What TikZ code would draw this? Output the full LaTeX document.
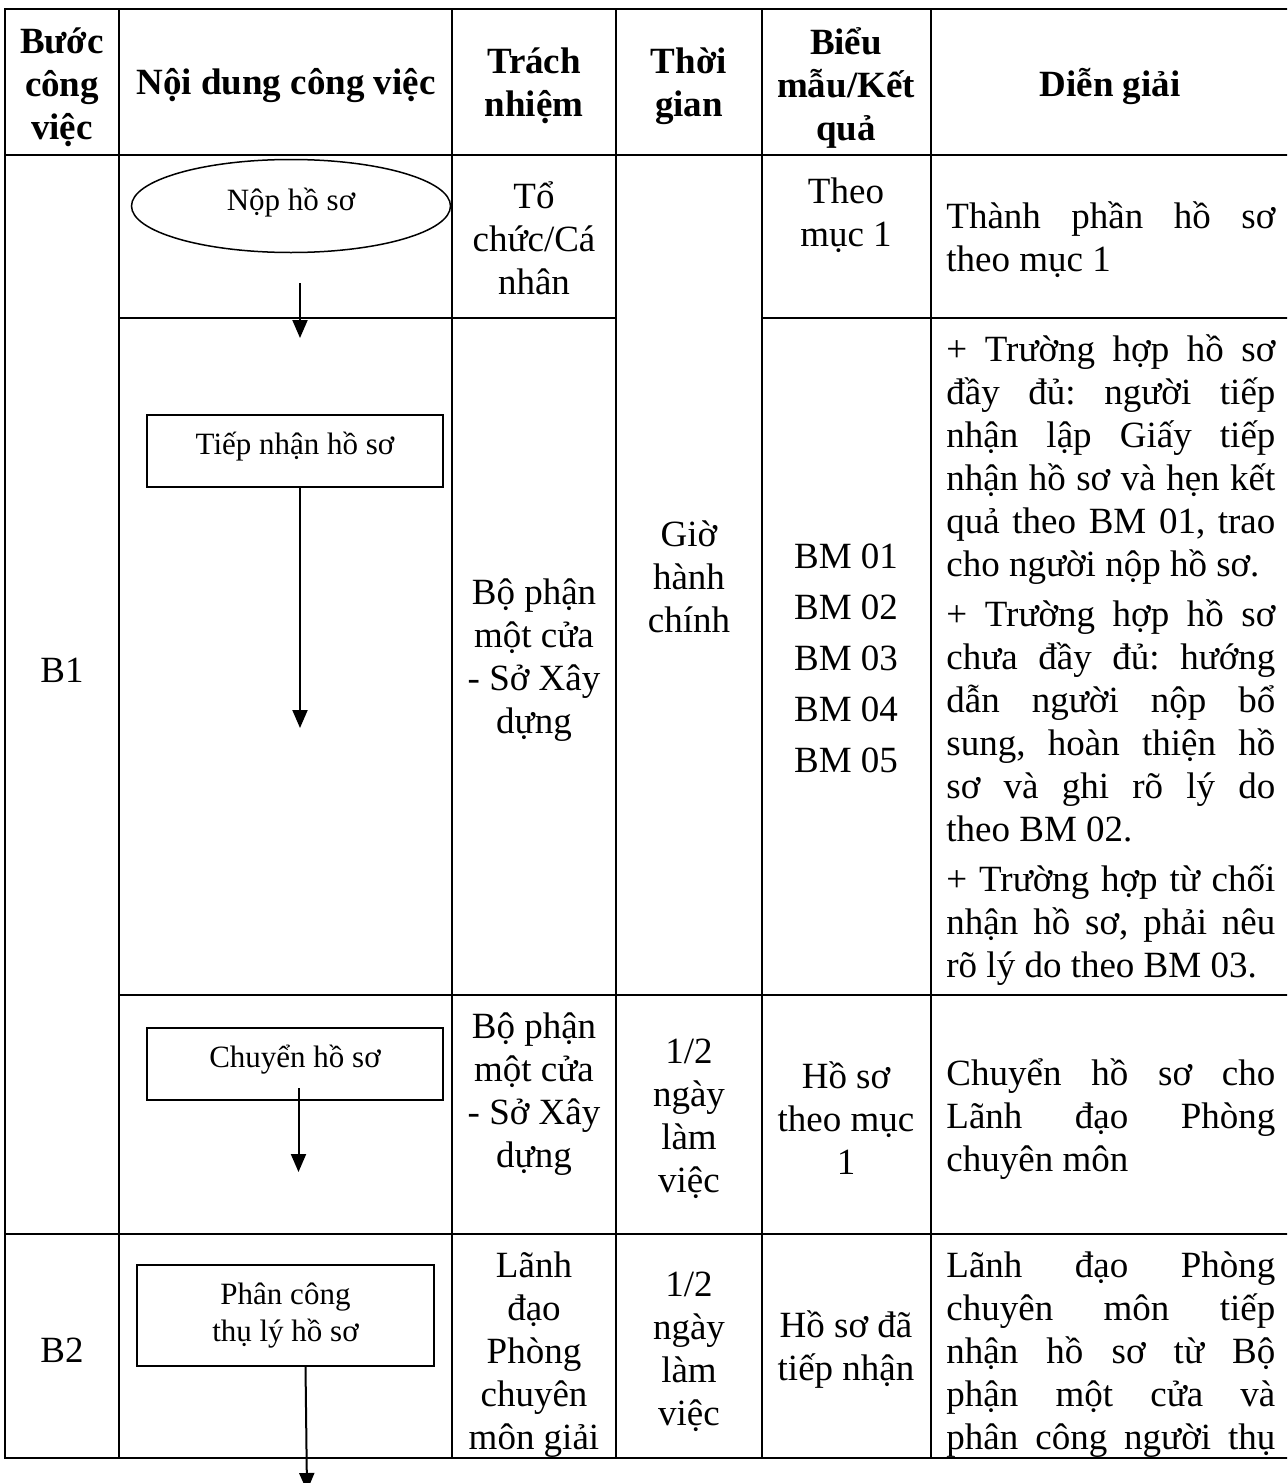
\documentclass[tikz,border=0pt]{standalone}
\usepackage{fontspec}
\setmainfont{Liberation Serif}
\usetikzlibrary{shapes.geometric,arrows.meta}
\newcommand\jline[1]{\makebox[164.5pt][s]{#1}}
\newcommand\lowtext[2]{\raisebox{#1}[0pt][0pt]{#2}}
\frenchspacing
\tikzset{
  grid/.style={line width=1pt, line cap=rect},
  txt/.style={font=\fontsize{18.5}{21.5}\selectfont, inner sep=0pt, align=center},
  hdr/.style={font=\fontsize{18.5}{21.5}\selectfont\bfseries, inner sep=0pt, align=center},
  just/.style={font=\fontsize{18.5}{21.5}\selectfont, inner sep=0pt, align=left, anchor=west},
  flowbox/.style={draw, line width=0.75pt, font=\fontsize{15.5}{18.5}\selectfont, inner sep=0pt, align=center},
  arr/.style={line width=1pt, -{Triangle[width=7.5pt,length=9pt]}}
}
\begin{document}
\begin{tikzpicture}[x=0.5pt,y=-0.5pt]
\useasboundingbox (0,0) rectangle (1287,1483);
\clip (0,0) rectangle (1287,1483);
% table grid
\draw[grid] (5,9) -- (1287,9);
\draw[grid] (5,155) -- (1287,155);
\draw[grid] (119,318) -- (616,318);
\draw[grid] (762,318) -- (1287,318);
\draw[grid] (119,995) -- (1287,995);
\draw[grid] (5,1234) -- (1287,1234);
\draw[grid] (5,1458) -- (1287,1458);
\foreach \xx in {5,119,452,616,762,931} \draw[grid] (\xx,9) -- (\xx,1458);
% header
\node[hdr] (h1) at (62,87) {Bước\\công\\việc};
\node[hdr] (h2) at (286,86) {Nội dung công việc};
\node[hdr] (h3) at (534,86) {Trách\\nhiệm};
\node[hdr] (h4) at (689,86) {Thời\\gian};
\node[hdr] (h5) at (846,88) {Biểu\\mẫu/Kết\\quả};
\node[hdr] (h6) at (1110,86) {Diễn giải};
% step column
\node[txt] (b1) at (62,670) {B1};
\node[txt] (b2) at (62,1350) {B2};
% responsibility
\node[txt] (r1) at (534,238) {Tổ\\chức/Cá\\nhân};
\node[txt] (r2) at (534,660) {Bộ phận\\một cửa\\- Sở Xây\\dựng};
\node[txt] (r3) at (534,1094) {Bộ phận\\một cửa\\- Sở Xây\\dựng};
\node[txt] (r4) at (534,1355) {Lãnh\\đạo\\Phòng\\chuyên\\môn giải};
% time
\node[txt] (t1) at (689,577) {Giờ\\hành\\chính};
\node[txt] (t3) at (689,1119) {1/2\\ngày\\làm\\việc};
\node[txt] (t4) at (689,1352) {1/2\\ngày\\làm\\việc};
% forms
\node[txt] (f1) at (846,215) {Theo\\mục 1};
\node[txt] (f2) at (846,658) {BM 01\\[4pt]BM 02\\[4pt]BM 03\\[4pt]BM 04\\[4pt]BM 05};
\node[txt] (f3) at (846,1118) {Hồ sơ\\theo mục\\1};
\node[txt] (f4) at (846,1350) {Hồ sơ đã\\tiếp nhận};
% explanation
\node[just] (d1) at (946,240) {\jline{Thành phần hồ sơ}\\theo mục 1};
\node[just] (d2) at (946,660) {\jline{+ Trường hợp hồ sơ}\\\jline{đầy đủ: người tiếp}\\\jline{nhận lập Giấy tiếp}\\\jline{nhận hồ sơ và hẹn kết}\\\jline{quả theo BM 01, trao}\\cho người nộp hồ sơ.\\[3.5pt]\jline{+ Trường hợp hồ sơ}\\\jline{chưa đầy đủ: hướng}\\\jline{dẫn người nộp bổ}\\\jline{sung, hoàn thiện hồ}\\\jline{sơ và ghi rõ lý do}\\theo BM 02.\\[3.5pt]\jline{+ Trường hợp từ chối}\\\jline{nhận hồ sơ, phải nêu}\\rõ lý do theo BM 03.};
\node[just] (d3) at (946,1119) {\jline{Chuyển hồ sơ cho}\\\jline{Lãnh đạo Phòng}\\chuyên môn};
\node[just] (d4) at (946,1355) {\jline{Lãnh đạo Phòng}\\\jline{chuyên môn tiếp}\\\jline{nhận hồ sơ từ Bộ}\\\jline{phận một cửa và}\\\jline{phân công người thụ}};
% flowchart
\node[flowbox, ellipse, minimum width=159.5pt, minimum height=46.5pt] (nop) at (291,206) {\lowtext{-2pt}{Nộp hồ sơ}};
\node[flowbox, rectangle, minimum width=148pt, minimum height=36pt] (tiep) at (295,451) {\lowtext{-1.5pt}{Tiếp nhận hồ sơ}};
\node[flowbox, rectangle, minimum width=148pt, minimum height=36pt] (chuyen) at (295,1064) {\lowtext{-1.5pt}{Chuyển hồ sơ}};
\node[flowbox, rectangle, minimum width=148.5pt, minimum height=50.5pt] (phan) at (285.5,1315.5) {Phân công\\thụ lý hồ sơ};
\coordinate (a1s) at (300,283);
\coordinate (a1e) at (300,338);
\coordinate (a2s) at (300,487);
\coordinate (a2e) at (300,728);
\coordinate (a3s) at (298.5,1088);
\coordinate (a3e) at (298.5,1172);
\coordinate (a4s) at (305.5,1366);
\coordinate (a4e) at (307,1491);
\draw[arr] (a1s) -- (a1e);
\draw[arr] (a2s) -- (a2e);
\draw[arr] (a3s) -- (a3e);
\draw[arr] (a4s) -- (a4e);
\end{tikzpicture}
\end{document}
